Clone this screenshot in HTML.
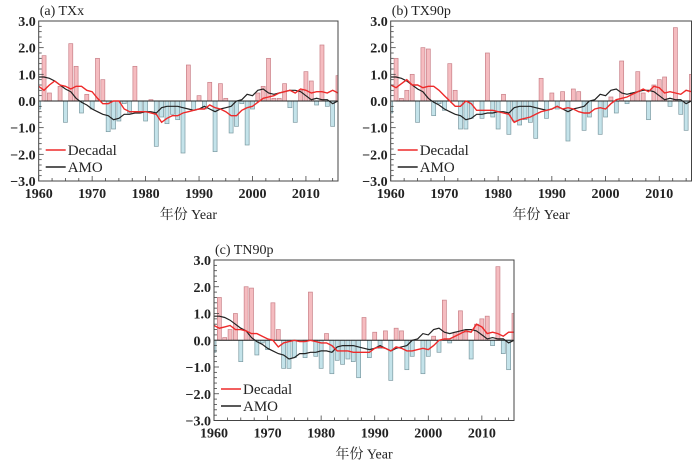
<!DOCTYPE html>
<html><head><meta charset="utf-8"><style>
html,body{margin:0;padding:0;background:#fff;}
svg{display:block;}
text{font-family:"Liberation Serif","DejaVu Serif",serif;fill:#222;}
text.cjk{font-family:"Liberation Serif","Noto Serif CJK SC",serif;}
</style></head><body>
<svg id="chart" width="700" height="462" viewBox="0 0 700 462" xmlns="http://www.w3.org/2000/svg"></svg>
<script>
const years = [];
for (let y = 1960; y <= 2016; y++) years.push(y);
const yTicks = [3.0, 2.0, 1.0, 0.0, -1.0, -2.0, -3.0];
const yTickLabels = ["3.0", "2.0", "1.0", "0.0", "\u22121.0", "\u22122.0", "\u22123.0"];
const xTicks = [1960, 1970, 1980, 1990, 2000, 2010];

const txxBars = [-0.3,1.7,0.3,0.0,0.55,-0.8,2.15,1.3,-0.45,0.25,-0.3,1.6,0.8,-1.15,-1.05,-0.75,-0.1,-0.45,1.3,-0.4,-0.75,0.05,-1.7,-0.6,-0.85,-0.5,-0.7,-1.95,1.35,-0.35,0.2,-0.3,0.7,-1.9,0.65,0.1,-1.2,-0.95,-0.1,-1.65,-0.3,0.3,0.55,1.6,0.1,0.1,0.65,-0.25,-0.8,0.4,1.1,0.75,-0.15,2.1,-0.2,-0.95,0.95];
const txxDecadal = [0.55,0.4,0.6,0.75,0.6,0.55,0.45,0.55,0.55,0.4,0.35,0.1,-0.1,-0.1,0,0,-0.3,-0.4,-0.4,-0.4,-0.4,-0.45,-0.5,-0.8,-0.65,-0.55,-0.55,-0.45,-0.4,-0.35,-0.3,-0.3,-0.15,-0.25,-0.3,-0.4,-0.55,-0.55,-0.35,-0.25,-0.2,-0.05,0.1,0.15,0.2,0.3,0.35,0.4,0.3,0.45,0.4,0.3,0.35,0.35,0.3,0.4,0.3];
const txxAmo = [0.9,0.9,0.85,0.75,0.6,0.45,0.35,0.1,-0.05,-0.15,-0.3,-0.4,-0.5,-0.55,-0.7,-0.65,-0.5,-0.5,-0.45,-0.45,-0.4,-0.4,-0.45,-0.25,-0.2,-0.2,-0.2,-0.25,-0.3,-0.35,-0.3,-0.2,-0.3,-0.4,-0.3,-0.25,-0.2,0,0.05,0.25,0.2,0.4,0.45,0.3,0.25,0.3,0.35,0.4,0.4,0.35,0.2,0.05,0.1,0.05,0.05,-0.1,0];

const tx90Bars = [-0.45,1.6,0.1,0.4,1.0,-0.8,2.0,1.95,-0.55,-0.1,-0.35,1.4,0.4,-1.05,-1.05,-0.65,0,-0.65,1.8,-0.6,-1.05,0.25,-1.25,-0.75,-0.9,-0.7,-0.8,-1.4,0.85,-0.65,0.3,-0.3,0.35,-1.5,0.45,0.35,-1.1,-0.6,0,-1.25,-0.6,0.15,-0.45,1.5,-0.1,0.3,1.1,0.3,-0.7,0.6,0.8,0.9,-0.2,2.75,-0.5,-1.1,1.0];
const tx90Decadal = [0.6,0.5,0.65,0.8,0.6,0.6,0.5,0.55,0.55,0.4,0.2,0,-0.2,-0.2,0,-0.1,-0.35,-0.35,-0.35,-0.35,-0.4,-0.45,-0.5,-0.8,-0.7,-0.65,-0.6,-0.5,-0.4,-0.35,-0.3,-0.2,-0.3,-0.25,-0.3,-0.4,-0.45,-0.45,-0.3,-0.25,-0.3,-0.1,0.05,0.1,0.15,0.25,0.35,0.45,0.35,0.55,0.5,0.3,0.35,0.3,0.25,0.4,0.35];
const tx90Amo = txxAmo.slice();

const tn90Bars = tx90Bars.slice();
const tn90Decadal = [0.55,0.45,0.5,0.55,0.4,0.4,0.35,0.25,0.25,0.15,0.05,0,-0.25,-0.1,-0.05,0,-0.05,-0.05,0,-0.05,-0.1,-0.1,-0.2,-0.4,-0.4,-0.4,-0.45,-0.45,-0.45,-0.45,-0.3,-0.25,-0.3,-0.4,-0.25,-0.3,-0.4,-0.4,-0.35,-0.3,-0.35,-0.2,0,0.05,0.05,0.15,0.25,0.35,0.3,0.6,0.5,0.25,0.3,0.25,0.15,0.3,0.3];
const tn90Amo = txxAmo.slice();

const NS = "http://www.w3.org/2000/svg";
const svg = document.getElementById('chart');
function mk(tag, attrs, parent) {
  const e = document.createElementNS(NS, tag);
  for (const k in attrs) e.setAttribute(k, attrs[k]);
  parent.appendChild(e);
  return e;
}

function panel(id, title, L, R, T, B, bars, dec, amo, legendY) {
  const g = mk('g', {}, svg);
  
  
  const xs = v => L + (v - 1960) / (2016 - 1960) * (R - L);
  const ys = v => T + (3 - v) / 6 * (B - T);
  const clipId = 'clip-' + id;
  const cp = mk('clipPath', {id: clipId}, g);
  mk('rect', {x: L, y: T, width: R - L, height: B - T}, cp);
  const pg = mk('g', {'clip-path': 'url(#' + clipId + ')'}, g);
  const bw = 4;
  bars.forEach((v, i) => {
    const x = xs(years[i]);
    const y0 = ys(0), y1 = ys(v);
    const r = mk('rect', {x: x - bw / 2, y: Math.min(y0, y1), width: bw, height: Math.abs(y1 - y0),
      fill: v >= 0 ? '#f5bcc0' : '#c4e3ea', stroke: v >= 0 ? '#c98088' : '#7c9aa2', 'stroke-width': 0.7}, pg);
    
    
  });
  mk('line', {x1: L, x2: R, y1: ys(0), y2: ys(0), stroke: '#222', 'stroke-width': 1}, pg);
  const pd = p => p.map((v, i) => (i ? 'L' : 'M') + xs(years[i]).toFixed(1) + ',' + ys(v).toFixed(1)).join('');
  const al = mk('path', {d: pd(amo), fill: 'none', stroke: '#222', 'stroke-width': 1.2}, pg);
  
  
  const dl = mk('path', {d: pd(dec), fill: 'none', stroke: '#ee2a2a', 'stroke-width': 1.4}, pg);
  
  
  const fr = mk('rect', {x: L, y: T, width: R - L, height: B - T, fill: 'none', stroke: '#444', 'stroke-width': 1}, g);
  
  
  for (let v = -3; v <= 3.001; v += 0.2) {
    const major = Math.abs(v - Math.round(v)) < 0.01;
    mk('line', {x1: L, x2: L + (major ? 5 : 3), y1: ys(v), y2: ys(v), stroke: '#444', 'stroke-width': 0.8}, g);
  }
  yTicks.forEach((v, i) => {
    const t = mk('text', {x: L - 3, y: ys(v) + 5, 'text-anchor': 'end', 'font-size': 14, 'font-weight': 'bold'}, g);
    t.textContent = yTickLabels[i];
    
    
  });
  for (let yr = 1960; yr <= 2016; yr += 2.5) {
    const major = (yr % 10) === 0;
    mk('line', {x1: xs(yr), x2: xs(yr), y1: B, y2: B - (major ? 5 : 3), stroke: '#444', 'stroke-width': 0.8}, g);
  }
  xTicks.forEach(v => {
    const t = mk('text', {x: xs(v), y: B + 17, 'text-anchor': 'middle', 'font-size': 14, 'font-weight': 'bold'}, g);
    t.textContent = v;
    
    
  });
  const xt = mk('text', {x: (L + R) / 2, y: B + 38, 'text-anchor': 'middle', 'font-size': 14, class: 'cjk'}, g);
  xt.textContent = '年份 Year';
  
  
  const tt = mk('text', {x: L + 1, y: T - 6, 'font-size': 14}, g);
  tt.textContent = title;
  
  
  const lg = mk('g', {}, g);
  
  
  mk('line', {x1: L + 7, x2: L + 27, y1: legendY, y2: legendY, stroke: '#ee2a2a', 'stroke-width': 1.6}, lg);
  const t1 = mk('text', {x: L + 29, y: legendY + 5, 'font-size': 15}, lg);
  t1.textContent = 'Decadal';
  
  
  mk('line', {x1: L + 7, x2: L + 27, y1: legendY + 17, y2: legendY + 17, stroke: '#222', 'stroke-width': 1.4}, lg);
  const t2 = mk('text', {x: L + 29, y: legendY + 22, 'font-size': 15}, lg);
  t2.textContent = 'AMO';
  
  
}
panel('txx', '(a) TXx', 38.7, 338, 21, 181, txxBars, txxDecadal, txxAmo, 150);
panel('tx90p', '(b) TX90p', 390.7, 691.5, 21, 181, tx90Bars, tx90Decadal, tx90Amo, 150);
panel('tn90p', '(c) TN90p', 214, 514, 260, 420.5, tn90Bars, tn90Decadal, tn90Amo, 389);
</script>
</body></html>
